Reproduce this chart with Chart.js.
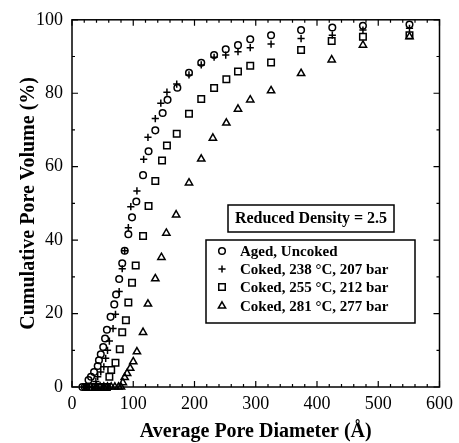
<!DOCTYPE html>
<html><head><meta charset="utf-8">
<script src="https://cdn.jsdelivr.net/npm/chart.js@4/dist/chart.umd.min.js"></script>
<style>html,body{margin:0;padding:0;background:#fff;}canvas{display:block;}</style>
</head><body>
<canvas id="c" width="459" height="443"></canvas>
<script>
// ---- data ----
const agedX = [17,21,24,27,31,36,42,44,47,51,54,57,63,69,72,77,82,86,92,98,105,116,125,136,148,156,172,191,211,232,251,271,291,325,374,425,475,551];
const agedY = [0,0,0,1.9,2.8,4.1,5.7,7.3,8.9,10.9,13.2,15.6,19.1,22.5,25.2,29.4,33.7,37.1,41.6,46.2,50.5,57.7,64.2,69.9,74.6,78.2,81.5,85.6,88.3,90.4,92.0,93.1,94.7,95.8,97.2,97.9,98.4,98.7];
const coked238X = [20,24,28,32,36,39,42,47,52,55,58,61,67,71,77,82,86,92,96,106,117,124,136,145,155,171,191,211,232,251,271,291,325,374,425,475,551];
const coked238Y = [0,0,0,0,0,1.5,2.8,4.1,5.5,7.8,10.0,12.5,15.9,19.8,26.0,32.2,37.1,43.4,49.1,53.4,62.0,68.0,73.1,77.3,80.3,82.5,85.0,87.7,89.8,90.4,91.3,92.4,93.4,94.9,95.8,97.2,97.7];
const coked255X = [28,33,38,43,48,53,57,61,64,71,78,82,88,92,98,104,116,125,136,147,155,171,191,211,232,252,271,291,325,374,424,475,551];
const coked255Y = [0,0,0,0,0,0,0,2.8,4.6,6.6,10.3,14.9,18.2,23.0,28.4,33.1,41.1,49.3,56.1,61.7,65.8,69.0,74.4,78.4,81.4,83.8,85.9,87.5,88.4,91.8,94.2,95.4,95.8];
const coked281X = [40,46,52,58,64,70,76,80,83,86,90,95,100,106,116,124,136,146,154,170,191,211,230,252,271,291,325,374,424,475,551];
const coked281Y = [0,0,0,0,0,0,0,0,1.2,2.6,3.7,5.1,6.9,9.6,14.9,22.6,29.5,35.3,41.9,46.9,55.6,62.1,67.8,71.9,75.7,78.2,80.7,85.4,89.1,93.1,95.4];

const seriesLabels = ['Aged, Uncoked','Coked, 238 \u00B0C, 207 bar','Coked, 255 \u00B0C, 212 bar','Coked, 281 \u00B0C, 277 bar'];
const noteText = 'Reduced Density = 2.5';
const xTickValues = [0,100,200,300,400,500,600];
const yTickValues = [0,20,40,60,80,100];
const xTitle = 'Average Pore Diameter (\u00C5)';
const yTitle = 'Cumulative Pore Volume (%)';

const SERIF = "'Liberation Serif','DejaVu Serif',serif";
const pts = (xs, ys) => xs.map((x, i) => ({x, y: ys[i]}));
const styles = [
  {pointStyle:'circle',  radius:3.3},
  {pointStyle:'cross',   radius:3.6},
  {pointStyle:'rect',    radius:4.6},
  {pointStyle:'triangle',radius:4.2}
];
const seriesData = [pts(agedX,agedY), pts(coked238X,coked238Y), pts(coked255X,coked255Y), pts(coked281X,coked281Y)];

const datasets = seriesData.map((d, i) => ({
  label: seriesLabels[i], data: d, showLine:false,
  pointStyle: styles[i].pointStyle, pointRadius: styles[i].radius,
  pointBorderColor:'#000', pointBackgroundColor:'rgba(0,0,0,0)', pointBorderWidth:1.5,
  borderColor:'#000', backgroundColor:'rgba(0,0,0,0)', clip:false
}));

function drawMarker(ctx, style, r, x, y) {
  ctx.fillStyle = 'rgba(0,0,0,0)';
  if (Chart.helpers && Chart.helpers.drawPoint) {
    Chart.helpers.drawPoint(ctx, {pointStyle: style, radius: r, borderWidth: 1.5, rotation: 0}, x, y);
    return;
  }
  ctx.beginPath(); ctx.arc(x, y, r, 0, Math.PI*2); ctx.stroke();
}

const framePlugin = {
  id:'frame',
  afterDatasetsDraw(chart) {
    const {ctx, chartArea:a, scales:{x, y}} = chart;
    ctx.save();
    ctx.strokeStyle = '#000';
    ctx.lineWidth = 1.5;
    ctx.strokeRect(a.left, a.top, a.right - a.left, a.bottom - a.top);
    ctx.lineWidth = 1.2;
    ctx.beginPath();
    const xStep = 20, yStep = 10;
    for (let v = x.min; v <= x.max; v += xStep) {
      const p = x.getPixelForValue(v);
      const L = xTickValues.includes(v) ? 6 : 3;
      ctx.moveTo(p, a.bottom); ctx.lineTo(p, a.bottom - L);
      ctx.moveTo(p, a.top); ctx.lineTo(p, a.top + L);
    }
    for (let v = y.min; v <= y.max; v += yStep) {
      const p = y.getPixelForValue(v);
      const L = yTickValues.includes(v) ? 6 : 3;
      ctx.moveTo(a.left, p); ctx.lineTo(a.left + L, p);
      ctx.moveTo(a.right, p); ctx.lineTo(a.right - L, p);
    }
    ctx.stroke();
    ctx.restore();
  }
};

const legendPlugin = {
  id:'boxLegend',
  afterDraw(chart) {
    const ctx = chart.ctx;
    ctx.save();
    ctx.strokeStyle = '#000';
    // note box
    ctx.lineWidth = 1.5;
    ctx.fillStyle = '#fff';
    ctx.fillRect(228, 205, 166, 27);
    ctx.strokeRect(228, 205, 166, 27);
    ctx.fillStyle = '#000';
    ctx.font = "bold 16px " + SERIF;
    ctx.textBaseline = 'middle'; ctx.textAlign = 'center';
    ctx.fillText(noteText, 311, 219);
    // legend box
    ctx.fillStyle = '#fff';
    ctx.fillRect(206, 240, 209, 83);
    ctx.strokeRect(206, 240, 209, 83);
    ctx.font = "bold 15px " + SERIF;
    ctx.textAlign = 'left';
    const rows = [251, 269, 287, 306];
    seriesLabels.forEach((lab, i) => {
      ctx.lineWidth = 1.5;
      drawMarker(ctx, styles[i].pointStyle, styles[i].radius, 222, rows[i]);
      ctx.fillStyle = '#000';
      ctx.fillText(lab, 240, rows[i] + 1);
    });
    ctx.restore();
  }
};

new Chart(document.getElementById('c'), {
  type:'scatter',
  data:{datasets},
  options:{
    responsive:false, animation:false, devicePixelRatio:1,
    layout:{padding:{top:18, right:17, left:0, bottom:0}},
    plugins:{legend:{display:false}, tooltip:{enabled:false}},
    scales:{
      x:{
        type:'linear', min:0, max:600,
        afterFit(s){ s.height = 56; },
        afterBuildTicks(s){ s.ticks = xTickValues.map(v => ({value:v})); },
        ticks:{font:{family:SERIF, size:18}, color:'#000', padding:6, maxRotation:0, autoSkip:false},
        grid:{display:false, drawTicks:false},
        border:{display:false},
        title:{display:true, text:xTitle, color:'#000', font:{family:SERIF, size:20, weight:'bold'}, padding:{top:0, bottom:-1}}
      },
      y:{
        type:'linear', min:0, max:100,
        afterFit(s){ s.width = 72; },
        afterBuildTicks(s){ s.ticks = yTickValues.map(v => ({value:v})); },
        ticks:{font:{family:SERIF, size:18}, color:'#000', padding:9, autoSkip:false},
        grid:{display:false, drawTicks:false},
        border:{display:false},
        title:{display:true, text:yTitle, color:'#000', font:{family:SERIF, size:20, weight:'bold'}, padding:{top:17, bottom:0}}
      }
    }
  },
  plugins:[framePlugin, legendPlugin]
});
</script>
</body></html>
